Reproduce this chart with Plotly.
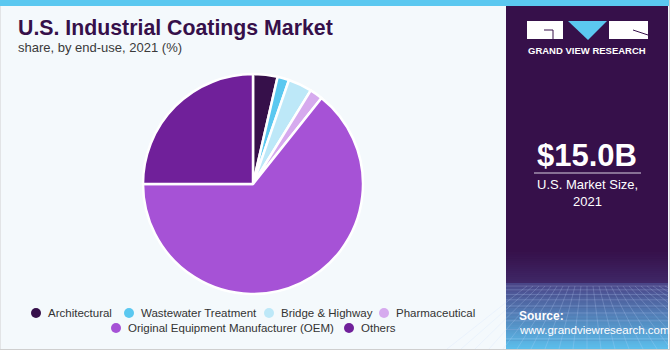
import plotly.graph_objects as go

# U.S. industrial coatings market share by end-use, 2021 (%)
segments = ["Architectural", "Wastewater Treatment", "Bridge & Highway",
            "Pharmaceutical", "Original Equipment Manufacturer (OEM)", "Others"]
shares = [3.6, 1.7, 3.5, 1.9, 64.3, 25.0]
colors = ["#36104a", "#5bc8f0", "#bde8f8", "#d6aaee", "#a652d6", "#70209a"]

title = "U.S. Industrial Coatings Market"
subtitle = "share, by end-use, 2021 (%)"
market_size = "$15.0B"
market_label = "U.S. Market Size,<br>2021"
brand = "GRAND VIEW RESEARCH"
source_head = "Source:"
source_url = "www.grandviewresearch.com"

W, H = 670, 350
FONT = "Liberation Sans, Arial, sans-serif"

# legend key layout: (key centre x, row centre y) in pixels, one per segment
legend_keys = [(36, 313), (129, 313), (269, 313), (384, 313), (116, 328), (349, 328)]


def px(x):
    return x / W


def py(y):
    return 1 - y / H


def rect(x0, y0, x1, y1, color, line=None):
    return dict(type="rect", xref="paper", yref="paper",
                x0=px(x0), x1=px(x1), y0=py(y1), y1=py(y0),
                fillcolor=color, line=dict(width=0) if line is None else line,
                layer="below")


def seg(x0, y0, x1, y1, color, width=1):
    return dict(type="line", xref="paper", yref="paper",
                x0=px(x0), x1=px(x1), y0=py(y0), y1=py(y1),
                line=dict(color=color, width=width))


def lerp(c0, c1, t):
    a = [int(c0[i:i + 2], 16) for i in (1, 3, 5)]
    b = [int(c1[i:i + 2], 16) for i in (1, 3, 5)]
    return "rgb(%d,%d,%d)" % tuple(round(a[k] + (b[k] - a[k]) * t) for k in range(3))


fig = go.Figure()

fig.add_trace(go.Pie(
    labels=segments, values=shares, sort=False, direction="clockwise",
    rotation=0, textinfo="none", hoverinfo="label+percent",
    marker=dict(colors=colors, line=dict(color="white", width=2.5)),
    domain=dict(x=[px(143), px(363)], y=[py(294), py(74)]),
    showlegend=False,
))

shapes = []
# page frame, top accent bar, right-hand panel
shapes.append(rect(0, 0, W, H, "#f4f9fc", line=dict(color="#cfcfcf", width=1)))
shapes.append(rect(0, 0, W, 6, "#5bc8f0"))
shapes.append(rect(506, 6, 668, 349, "#36104a"))

# fading base of the panel
n = 16
for i in range(n):
    y0 = 250 + (283 - 250) * i / n
    y1 = 250 + (283 - 250) * (i + 1) / n
    shapes.append(rect(506, y0, 668, y1 + 0.5, lerp("#36104a", "#3f2766", i / (n - 1))))
n = 30
for i in range(n):
    y0 = 283 + (349 - 283) * i / n
    y1 = 283 + (349 - 283) * (i + 1) / n
    shapes.append(rect(506, y0, 668, y1 + 0.5, lerp("#4a4688", "#5cbdea", i / (n - 1))))

# faint perspective grid
grid = "rgba(200,220,255,0.22)"
gy = 286
step = 3
while gy < 349:
    shapes.append(seg(506, gy, 668, gy, grid))
    step += 0.8
    gy += step
for k in range(-10, 21):
    xt = 587 + k * 6
    xb = 587 + k * 14
    shapes.append(seg(xt, 286, xb, 349, grid))
shapes.append(rect(668, 6, 670, 350, "#f4f9fc"))
shapes.append(rect(0, 349, W, 350, "#cfcfcf"))
shapes.append(rect(669, 0, 670, 350, "#cfcfcf"))

# logo blocks
shapes.append(dict(type="rect", xref="paper", yref="paper",
                   x0=px(527), x1=px(563), y0=py(39), y1=py(21),
                   fillcolor="white", line=dict(width=0)))
shapes.append(dict(type="path", xref="paper", yref="paper",
                   path="M %f %f L %f %f L %f %f Z" % (px(568), py(21), px(607), py(21), px(588), py(40)),
                   fillcolor="#5bc8f0", line=dict(width=0)))
shapes.append(dict(type="rect", xref="paper", yref="paper",
                   x0=px(609), x1=px(648), y0=py(39), y1=py(21),
                   fillcolor="white", line=dict(width=0)))
shapes.append(seg(544, 30, 553, 30, "#36104a", 1))
shapes.append(seg(553, 30, 553, 39, "#36104a", 1))
shapes.append(seg(633, 30, 648, 35, "#36104a", 1))
# rule under the market size figure
shapes.append(seg(534, 173, 641, 173, "#d8d0e0", 1))

annotations = [
    dict(text="<b>%s</b>" % title, x=px(16), y=py(28), xanchor="left", yanchor="middle",
         font=dict(family=FONT, size=21.3, color="#36104a")),
    dict(text=subtitle, x=px(16), y=py(48), xanchor="left", yanchor="middle",
         font=dict(family=FONT, size=13, color="#3a3a3a")),
    dict(text="<b>%s</b>" % brand, x=px(587), y=py(51), xanchor="center", yanchor="middle",
         font=dict(family=FONT, size=9.5, color="white")),
    dict(text="<b>%s</b>" % market_size, x=px(587), y=py(155), xanchor="center", yanchor="middle",
         font=dict(family=FONT, size=31, color="white")),
    dict(text=market_label, x=px(587), y=py(193), xanchor="center", yanchor="middle",
         font=dict(family=FONT, size=13, color="white")),
    dict(text="<b>%s</b>" % source_head, x=px(517), y=py(316), xanchor="left", yanchor="middle",
         font=dict(family=FONT, size=12, color="white")),
    dict(text=source_url, x=px(517), y=py(330), xanchor="left", yanchor="middle",
         font=dict(family=FONT, size=11.5, color="white")),
]

# legend: round key plus label for each segment
for name, c, (kx, ky) in zip(segments, colors, legend_keys):
    shapes.append(dict(type="circle", xref="paper", yref="paper",
                       x0=px(kx - 5), x1=px(kx + 5), y0=py(ky + 5), y1=py(ky - 5),
                       fillcolor=c, line=dict(width=0)))
    annotations.append(dict(text=name, x=px(kx + 10), y=py(ky), xanchor="left", yanchor="middle",
                            font=dict(family=FONT, size=11.5, color="#333333")))

for a in annotations:
    a.update(xref="paper", yref="paper", showarrow=False)

fig.update_layout(
    width=W, height=H, autosize=False,
    margin=dict(l=0, r=0, t=0, b=0, pad=0),
    paper_bgcolor="#f4f9fc", plot_bgcolor="rgba(0,0,0,0)",
    showlegend=False,
    shapes=shapes, annotations=annotations,
)

fig.write_html("out.html")
